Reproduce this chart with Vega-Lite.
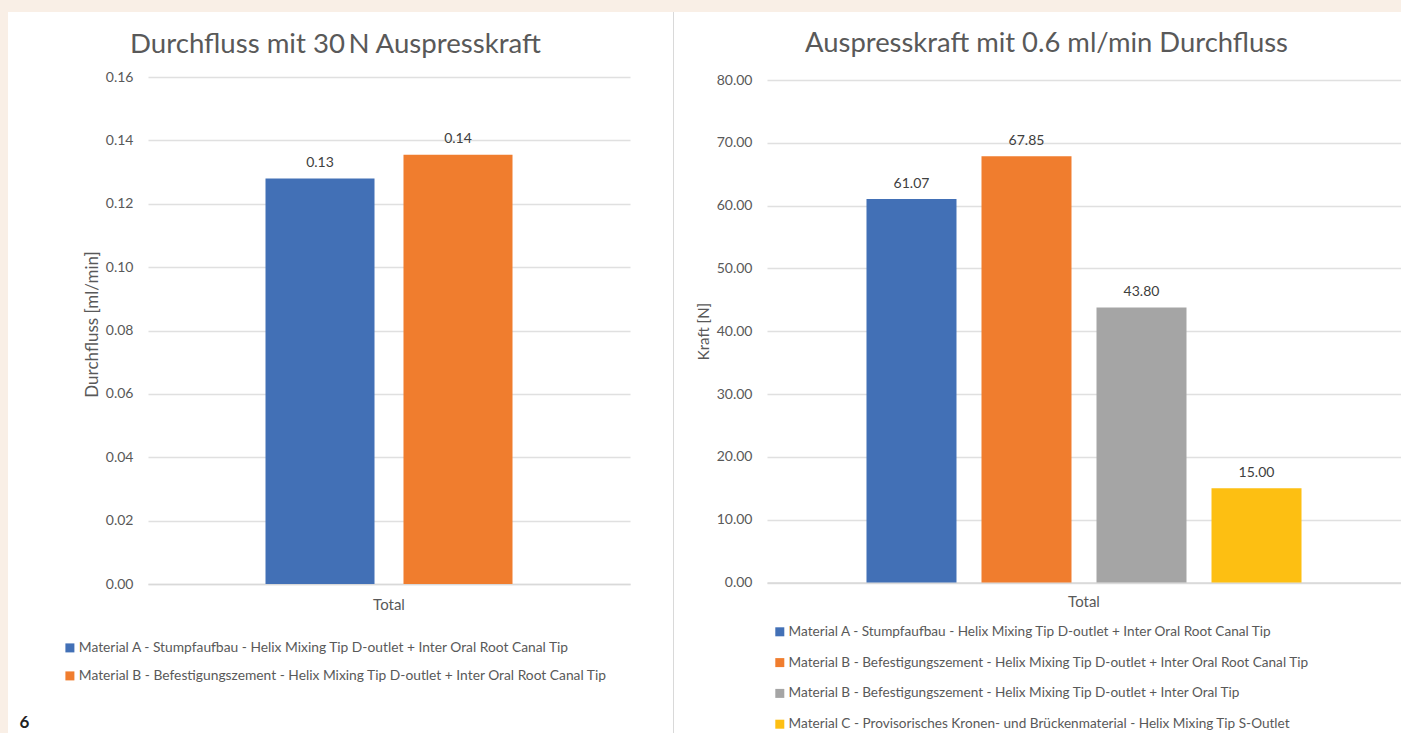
{
"$schema":"https://vega.github.io/schema/vega-lite/v6.json",
"background":"#F9EFE6",
"padding":{"left":8,"top":12,"right":0,"bottom":0},
"autosize":{"type":"pad"},
"spacing":0,
"bounds":"flush",
"config":{"font":"Lato","concat":{"spacing":0}},
"resolve":{"scale":{"color":"independent","xOffset":"independent"},"legend":{"color":"independent"}},
"datasets":{
"fluss":[
{"category":"Total","material":"Material A - Stumpfaufbau - Helix Mixing Tip D-outlet + Inter Oral Root Canal Tip","durchfluss":0.128},
{"category":"Total","material":"Material B - Befestigungszement - Helix Mixing Tip D-outlet + Inter Oral Root Canal Tip","durchfluss":0.1355}],
"kraft":[
{"category":"Total","material":"Material A - Stumpfaufbau - Helix Mixing Tip D-outlet + Inter Oral Root Canal Tip","kraft":61.07},
{"category":"Total","material":"Material B - Befestigungszement - Helix Mixing Tip D-outlet + Inter Oral Root Canal Tip","kraft":67.85},
{"category":"Total","material":"Material B - Befestigungszement - Helix Mixing Tip D-outlet + Inter Oral Tip","kraft":43.80},
{"category":"Total","material":"Material C - Provisorisches Kronen- und Brückenmaterial - Helix Mixing Tip S-Outlet","kraft":15.00}],
"leer":[]
},
"hconcat":[
{
"width":665,"height":721,
"view":{"fill":"#ffffff","stroke":null},
"title":{"text":"Durchfluss mit 30\u2009N Auspresskraft","anchor":"middle","frame":"group","dx":-5,"dy":51,"fontSize":27.6,"fontWeight":"normal","color":"#595959","font":"Lato"},
"data":{"name":"fluss"},
"encoding":{
"x":{"field":"category","type":"nominal","scale":{"range":[140,622],"paddingOuter":0.4757,"paddingInner":0},
"axis":{"orient":"bottom","offset":-149,"labelAngle":0,"title":"6","titleX":16,"titleY":138,"titleBaseline":"middle","titleFontSize":17,"titleFontWeight":"bold","titleColor":"#222222","titleFont":"Lato","labelColor":"#595959","labelFontSize":15,"labelPadding":13,"ticks":false,"domainColor":"#d9d9d9","domainWidth":1.5,"grid":false}},
"xOffset":{"field":"material","type":"nominal","sort":null,"scale":{"paddingInner":0.21,"paddingOuter":0}}
},
"layer":[
{"mark":{"type":"bar"},
"encoding":{
"y":{"field":"durchfluss","type":"quantitative","stack":null,"scale":{"domain":[0,0.16],"range":[572,65],"nice":false},
"axis":{"orient":"left","offset":-140,"values":[0,0.02,0.04,0.06,0.08,0.1,0.12,0.14,0.16],"format":".2f","domain":false,"ticks":false,"labelPadding":15,"labelColor":"#595959","labelFontSize":14,"gridColor":"#e0e0e0","gridWidth":1.5,"title":"Durchfluss [ml/min]","titleFontSize":17,"titleFontWeight":"normal","titleColor":"#595959","titleX":-47,"titleY":312}},
"color":{"field":"material","type":"nominal","sort":null,"scale":{"range":["#4270B6","#F07D2E"]},
"legend":{"orient":"none","legendX":55,"legendY":629,"title":null,"symbolType":"square","symbolSize":81,"symbolStrokeWidth":0,"labelFontSize":13.8,"labelColor":"#595959","labelLimit":700,"labelOffset":2,"rowPadding":13,"padding":0}}
}},
{"mark":{"type":"text","baseline":"bottom","dy":-8.5,"fontSize":14,"color":"#404040"},
"encoding":{
"y":{"field":"durchfluss","type":"quantitative","stack":null},
"text":{"field":"durchfluss","type":"quantitative","format":".2f"}
}}
]
},
{
"width":1,"height":721,
"view":{"fill":"#d9d9d9","stroke":null},
"data":{"name":"leer"},
"mark":"rect",
"encoding":{}
},
{
"width":727,"height":721,
"view":{"fill":"#ffffff","stroke":null},
"title":{"text":"Auspresskraft mit 0.6 ml/min Durchfluss","anchor":"middle","frame":"group","dx":9,"dy":49.5,"fontSize":27.4,"fontWeight":"normal","color":"#595959","font":"Lato"},
"data":{"name":"kraft"},
"encoding":{
"x":{"field":"category","type":"nominal","scale":{"range":[93,727],"paddingOuter":0.2287,"paddingInner":0},
"axis":{"orient":"bottom","offset":-150.5,"labelAngle":0,"title":null,"labelColor":"#595959","labelFontSize":15,"labelPadding":12,"ticks":false,"domainColor":"#d9d9d9","domainWidth":1.5,"grid":false}},
"xOffset":{"field":"material","type":"nominal","sort":null,"scale":{"paddingInner":0.2174,"paddingOuter":0}}
},
"layer":[
{"mark":{"type":"bar"},
"encoding":{
"y":{"field":"kraft","type":"quantitative","stack":null,"scale":{"domain":[0,80],"range":[570.5,68],"nice":false},
"axis":{"orient":"left","offset":-93,"values":[0,10,20,30,40,50,60,70,80],"format":".2f","domain":false,"ticks":false,"labelPadding":15,"labelColor":"#595959","labelFontSize":14,"gridColor":"#e0e0e0","gridWidth":1.5,"title":"Kraft [N]","titleFontSize":15,"titleFontWeight":"normal","titleColor":"#595959","titleX":-56,"titleY":319}},
"color":{"field":"material","type":"nominal","sort":null,"scale":{"range":["#4270B6","#F07D2E","#A5A5A5","#FDBF12"]},
"legend":{"orient":"none","legendX":99,"legendY":613,"title":null,"symbolType":"square","symbolSize":81,"symbolStrokeWidth":0,"labelFontSize":13.6,"labelColor":"#595959","labelLimit":700,"labelOffset":2,"rowPadding":15.8,"padding":0}}
}},
{"mark":{"type":"text","baseline":"bottom","dy":-8,"fontSize":14,"color":"#404040"},
"encoding":{
"y":{"field":"kraft","type":"quantitative","stack":null},
"text":{"field":"kraft","type":"quantitative","format":".2f"}
}}
]
}
]
}
